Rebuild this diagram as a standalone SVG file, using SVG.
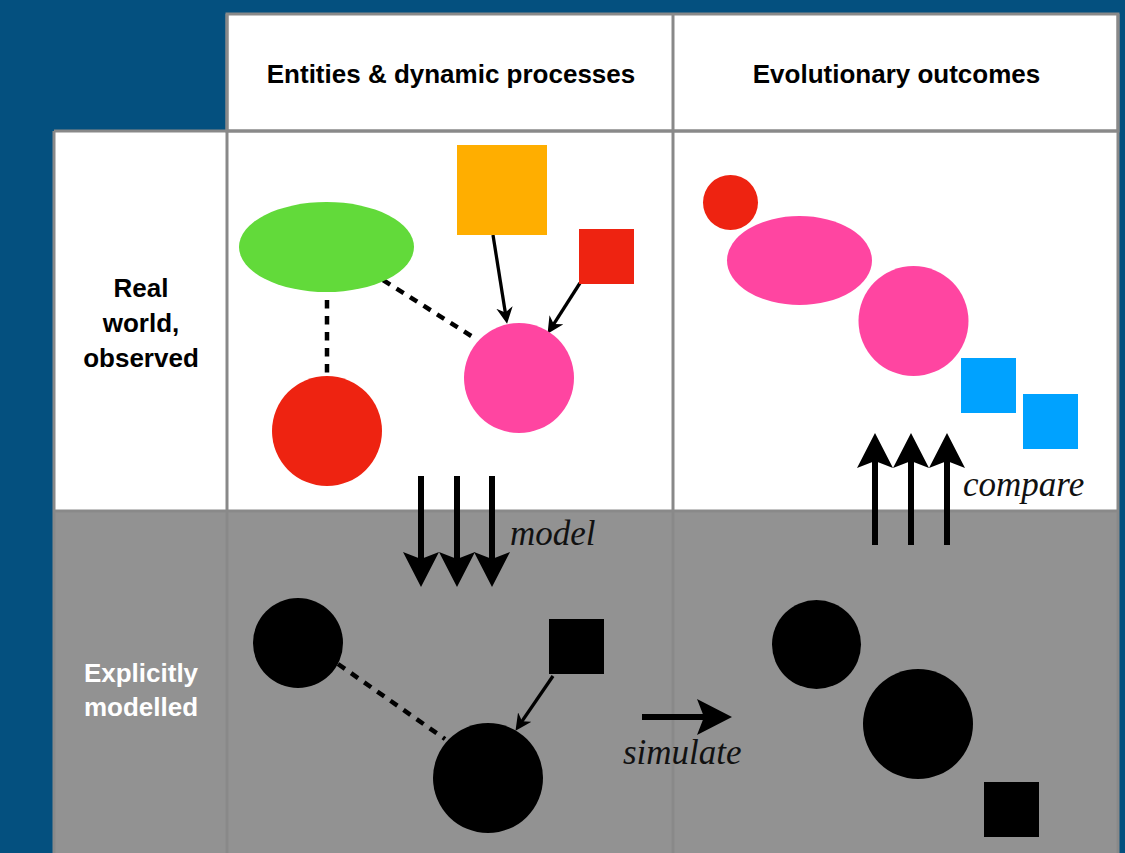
<svg xmlns="http://www.w3.org/2000/svg" width="1125" height="853" viewBox="0 0 1125 853">
<style>
.hdr{font-family:"Liberation Sans",Arial,sans-serif;font-weight:bold;font-size:26px;fill:#000;text-anchor:middle}
.lbl{font-family:"Liberation Sans",Arial,sans-serif;font-weight:bold;font-size:26px;text-anchor:middle}
.it{font-family:"Liberation Serif","Times New Roman",serif;font-style:italic;font-size:35px;fill:#111}
.grid{stroke:#898989;stroke-width:3;fill:none}
.dash{stroke:#000;stroke-width:4.5;stroke-dasharray:8.5 7.5;fill:none}
.thin{stroke:#000;stroke-width:3.3;fill:none;marker-end:url(#sm)}
.thick{stroke:#000;stroke-width:6;fill:none;marker-end:url(#big)}
</style>
<defs>
<marker id="sm" viewBox="0 0 10 10" markerWidth="5" markerHeight="5" refX="4.67" refY="5" orient="auto" markerUnits="strokeWidth">
<path d="M0,0 L10,5 L0,10 L3,5 z" fill="#000"/>
</marker>
<marker id="big" viewBox="0 0 35 36" markerWidth="35" markerHeight="36" refX="13" refY="18" orient="auto" markerUnits="userSpaceOnUse">
<path d="M0,0 L35,18 L0,36 L7,18 z" fill="#000"/>
</marker>
</defs>
<rect x="0" y="0" width="1125" height="853" fill="#04507f"/>
<g id="table">
<rect x="227" y="14" width="891" height="117" fill="#fff"/>
<rect x="54" y="131" width="1064" height="380" fill="#fff"/>
<rect x="54" y="511" width="1064" height="342" fill="#929292"/>
<rect class="grid" x="227" y="14" width="891" height="117"/>
<line class="grid" x1="54" y1="131" x2="1118" y2="131"/>
<line class="grid" x1="54" y1="511" x2="1118" y2="511"/>
<line class="grid" x1="54" y1="131" x2="54" y2="853"/>
<line class="grid" x1="227" y1="14" x2="227" y2="853"/>
<line class="grid" x1="673" y1="14" x2="673" y2="853"/>
<line class="grid" x1="1118" y1="14" x2="1118" y2="853"/>
</g>
<g id="headers">
<text class="hdr" x="451" y="83">Entities &amp; dynamic processes</text>
<text class="hdr" x="896.5" y="83">Evolutionary outcomes</text>
<text class="lbl" fill="#000" x="141" y="297">Real</text>
<text class="lbl" fill="#000" x="141" y="332">world,</text>
<text class="lbl" fill="#000" x="141" y="367">observed</text>
<text class="lbl" fill="#fff" x="141" y="682">Explicitly</text>
<text class="lbl" fill="#fff" x="141" y="716">modelled</text>
</g>
<g id="connectors">
<line class="dash" x1="327" y1="300" x2="327" y2="376"/>
<line class="dash" x1="383" y1="280" x2="476" y2="339"/>
<line class="thin" x1="493" y1="235" x2="505.7" y2="315.1"/>
<line class="thin" x1="580" y1="283" x2="552.3" y2="326.3"/>
<line class="dash" x1="338" y1="664" x2="445" y2="739"/>
<line class="thin" x1="553" y1="676" x2="520.5" y2="723.4"/>
<line class="thick" x1="421" y1="476" x2="421" y2="565"/>
<line class="thick" x1="457" y1="476" x2="457" y2="565"/>
<line class="thick" x1="492" y1="476" x2="492" y2="565"/>
<line class="thick" x1="875" y1="545" x2="875" y2="455"/>
<line class="thick" x1="911" y1="545" x2="911" y2="455"/>
<line class="thick" x1="947" y1="545" x2="947" y2="455"/>
<line class="thick" x1="642" y1="717" x2="710" y2="717"/>
</g>
<g id="edge-labels">
<text class="it" x="510" y="545">model</text>
<text class="it" x="963" y="496">compare</text>
<text class="it" x="623" y="764">simulate</text>
</g>
<g id="n-green"><ellipse cx="326.5" cy="247" rx="87.5" ry="45" fill="#62da3a"/></g>
<g id="n-orange"><rect x="457" y="145" width="90" height="90" fill="#ffae00"/></g>
<g id="n-redsq"><rect x="579" y="229" width="55" height="55" fill="#ee2311"/></g>
<g id="n-pink"><circle cx="519" cy="378" r="55" fill="#ff45a1"/></g>
<g id="n-red"><circle cx="327" cy="431" r="55" fill="#ee2311"/></g>
<g id="o-red"><circle cx="730.5" cy="202.5" r="27.5" fill="#ee2311"/></g>
<g id="o-pinkell"><ellipse cx="799.5" cy="260.5" rx="72.5" ry="44.5" fill="#ff45a1"/></g>
<g id="o-pink"><circle cx="913.5" cy="321" r="55" fill="#ff45a1"/></g>
<g id="o-blue1"><rect x="961" y="358" width="55" height="55" fill="#00a2ff"/></g>
<g id="o-blue2"><rect x="1023" y="394" width="55" height="55" fill="#00a2ff"/></g>
<g id="m-c1"><circle cx="298" cy="643" r="45" fill="#000"/></g>
<g id="m-sq"><rect x="549" y="619" width="55" height="55" fill="#000"/></g>
<g id="m-c2"><circle cx="488" cy="778" r="55" fill="#000"/></g>
<g id="s-c1"><circle cx="816.5" cy="644.5" r="44.5" fill="#000"/></g>
<g id="s-c2"><circle cx="918" cy="724" r="55" fill="#000"/></g>
<g id="s-sq"><rect x="984" y="782" width="55" height="55" fill="#000"/></g>
</svg>
